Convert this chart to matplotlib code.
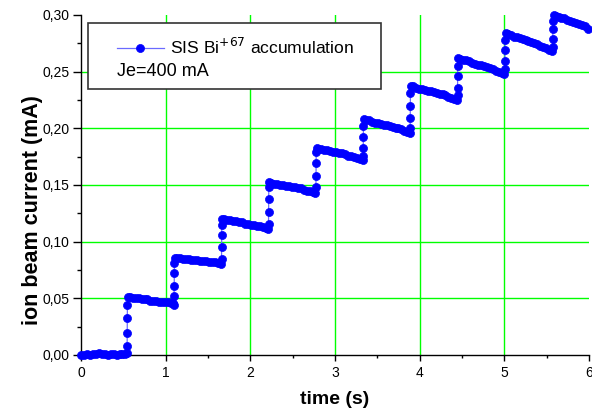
import matplotlib
matplotlib.use("Agg")
import matplotlib.pyplot as plt
from matplotlib.patches import Rectangle

plt.rcParams['font.family'] = ['Liberation Sans', 'DejaVu Sans']

# ---- data ----
time_s = [
    0.000, 0.035, 0.070, 0.105, 0.140, 0.175, 0.210, 0.245, 0.280, 0.315, 0.350, 0.385, 0.420, 0.455, 0.490, 0.525, 0.540,
    0.545, 0.546, 0.547, 0.548, 0.555,
    0.575, 0.610, 0.645, 0.680, 0.715, 0.750, 0.785, 0.820, 0.855, 0.890, 0.925, 0.960, 0.995, 1.030, 1.065, 1.090, 1.098,
    1.100, 1.101, 1.102, 1.103, 1.110,
    1.130, 1.165, 1.200, 1.235, 1.270, 1.305, 1.340, 1.375, 1.410, 1.445, 1.480, 1.515, 1.550, 1.585, 1.620, 1.652,
    1.660, 1.661, 1.662, 1.663, 1.670,
    1.690, 1.725, 1.760, 1.795, 1.830, 1.865, 1.900, 1.935, 1.970, 2.005, 2.040, 2.075, 2.110, 2.145, 2.180, 2.208,
    2.215, 2.216, 2.217, 2.218, 2.225,
    2.245, 2.280, 2.315, 2.350, 2.385, 2.420, 2.455, 2.490, 2.525, 2.560, 2.595, 2.630, 2.665, 2.700, 2.735, 2.767,
    2.775, 2.776, 2.777, 2.778, 2.785,
    2.805, 2.840, 2.875, 2.910, 2.945, 2.980, 3.015, 3.050, 3.085, 3.120, 3.155, 3.190, 3.225, 3.260, 3.295, 3.325,
    3.333, 3.334, 3.335, 3.336, 3.343,
    3.365, 3.400, 3.435, 3.470, 3.505, 3.540, 3.575, 3.610, 3.645, 3.680, 3.715, 3.750, 3.785, 3.820, 3.855, 3.880,
    3.888, 3.889, 3.890, 3.891, 3.898,
    3.920, 3.955, 3.990, 4.025, 4.060, 4.095, 4.130, 4.165, 4.200, 4.235, 4.270, 4.305, 4.340, 4.375, 4.410, 4.440,
    4.447, 4.448, 4.449, 4.450, 4.457,
    4.480, 4.515, 4.550, 4.585, 4.620, 4.655, 4.690, 4.725, 4.760, 4.795, 4.830, 4.865, 4.900, 4.935, 4.970, 4.998,
    5.006, 5.007, 5.008, 5.009, 5.016,
    5.040, 5.075, 5.110, 5.145, 5.180, 5.215, 5.250, 5.285, 5.320, 5.355, 5.390, 5.425, 5.460, 5.495, 5.530, 5.562,
    5.572, 5.573, 5.574, 5.575, 5.582,
    5.605, 5.640, 5.675, 5.710, 5.745, 5.780, 5.815, 5.850, 5.885, 5.920, 5.955, 5.990,
]

current_mA = [
    0.000, 0.000, 0.001, 0.000, 0.001, 0.001, 0.002, 0.001, 0.001, 0.000, 0.001, 0.001, 0.000, 0.001, 0.001, 0.001, 0.002,
    0.008, 0.019, 0.033, 0.044, 0.051,
    0.051, 0.050, 0.050, 0.050, 0.049, 0.049, 0.049, 0.048, 0.048, 0.048, 0.047, 0.047, 0.047, 0.047, 0.046, 0.046, 0.044,
    0.052, 0.061, 0.072, 0.081, 0.086,
    0.086, 0.086, 0.085, 0.085, 0.085, 0.084, 0.084, 0.084, 0.083, 0.083, 0.083, 0.082, 0.082, 0.082, 0.081, 0.080,
    0.085, 0.095, 0.106, 0.115, 0.120,
    0.120, 0.119, 0.119, 0.118, 0.118, 0.117, 0.117, 0.116, 0.116, 0.115, 0.115, 0.114, 0.114, 0.113, 0.112, 0.111,
    0.116, 0.126, 0.138, 0.148, 0.153,
    0.152, 0.151, 0.151, 0.150, 0.150, 0.149, 0.149, 0.148, 0.148, 0.147, 0.147, 0.146, 0.145, 0.145, 0.144, 0.143,
    0.148, 0.158, 0.169, 0.179, 0.183,
    0.182, 0.182, 0.181, 0.181, 0.180, 0.179, 0.179, 0.178, 0.178, 0.177, 0.176, 0.176, 0.175, 0.174, 0.173, 0.172,
    0.176, 0.183, 0.192, 0.202, 0.208,
    0.207, 0.207, 0.206, 0.205, 0.205, 0.204, 0.203, 0.203, 0.202, 0.201, 0.200, 0.200, 0.199, 0.198, 0.197, 0.196,
    0.200, 0.209, 0.220, 0.231, 0.237,
    0.237, 0.236, 0.235, 0.235, 0.234, 0.233, 0.233, 0.232, 0.231, 0.230, 0.230, 0.229, 0.228, 0.227, 0.226, 0.225,
    0.229, 0.236, 0.246, 0.255, 0.262,
    0.261, 0.260, 0.260, 0.259, 0.258, 0.257, 0.256, 0.256, 0.255, 0.254, 0.253, 0.252, 0.251, 0.250, 0.249, 0.248,
    0.252, 0.259, 0.269, 0.278, 0.284,
    0.283, 0.282, 0.281, 0.281, 0.280, 0.279, 0.278, 0.277, 0.276, 0.275, 0.274, 0.273, 0.272, 0.271, 0.269, 0.268,
    0.272, 0.279, 0.288, 0.295, 0.300,
    0.299, 0.298, 0.297, 0.297, 0.296, 0.295, 0.294, 0.293, 0.292, 0.291, 0.290, 0.288,
]

x_ticks = [0, 1, 2, 3, 4, 5, 6]
x_tick_labels = ["0", "1", "2", "3", "4", "5", "6"]
y_ticks = [0.00, 0.05, 0.10, 0.15, 0.20, 0.25, 0.30]
y_tick_labels = ["0,00", "0,05", "0,10", "0,15", "0,20", "0,25", "0,30"]
grid_x = [1, 2, 3, 4, 5]
grid_y = [0.05, 0.10, 0.15, 0.20, 0.25]

series_label = "SIS Bi$^{+67}$ accumulation"
note_text = "Je=400 mA"

# ---- figure ----
fig = plt.figure(figsize=(5.92, 4.12), dpi=100)
ax = fig.add_axes([81/592, 1 - 355/412, 508/592, 340/412])

ax.set_xlim(0, 6)
ax.set_ylim(0, 0.30)

for gx in grid_x:
    ax.axvline(gx, color='#00ff00', lw=1.0, zorder=0.5)
for gy in grid_y:
    ax.axhline(gy, color='#00ff00', lw=1.0, zorder=0.5)

line, = ax.plot(time_s, current_mA, '-', color='#6a6aff', lw=0.9,
                marker='o', markersize=5.8, markerfacecolor='#0000ff',
                markeredgecolor='#0000ff', markeredgewidth=0.5,
                clip_on=False, zorder=3)

ax.spines['top'].set_visible(False)
ax.spines['right'].set_visible(False)
for s in ('left', 'bottom'):
    ax.spines[s].set_linewidth(1.0)
    ax.spines[s].set_color('black')

ax.set_xticks(x_ticks)
ax.set_xticklabels(x_tick_labels)
ax.set_yticks(y_ticks)
ax.set_yticklabels(y_tick_labels)
ax.set_xticks([0.5, 1.5, 2.5, 3.5, 4.5, 5.5], minor=True)
ax.set_yticks([0.025, 0.075, 0.125, 0.175, 0.225, 0.275], minor=True)
ax.tick_params(axis='x', which='major', direction='out', length=4.5, width=1.0, pad=3.5, labelsize=10)
ax.tick_params(axis='x', which='minor', direction='out', length=2.5, width=1.0)
ax.tick_params(axis='y', which='major', direction='out', length=6.0, width=1.0, pad=2.5, labelsize=10)
ax.tick_params(axis='y', which='minor', direction='out', length=3.0, width=1.0)

ax.set_xlabel("time (s)", fontsize=14, fontweight='bold')
ax.set_ylabel("ion beam current (mA)", fontsize=15.5, fontweight='bold')
ax.xaxis.set_label_coords(0.5, -0.105)
ax.yaxis.set_label_coords(-0.075, 0.426)

# legend box
box = Rectangle((0.0138, 0.7824), 0.5768, 0.1941, transform=ax.transAxes,
                facecolor='white', edgecolor='#333333', lw=1.2, zorder=4)
ax.add_patch(box)
leg = ax.legend(handles=[line], labels=[series_label], loc='center left',
                bbox_to_anchor=(0.0703, 0.905), frameon=False, fontsize=12.6,
                handlelength=2.7, handletextpad=0.35, borderpad=0, borderaxespad=0,
                numpoints=1)
leg.set_zorder(5)
ax.text(0.0709, 0.833, note_text, transform=ax.transAxes, fontsize=13,
        va='center', ha='left', zorder=5)

fig.savefig("out.png", dpi=100)
